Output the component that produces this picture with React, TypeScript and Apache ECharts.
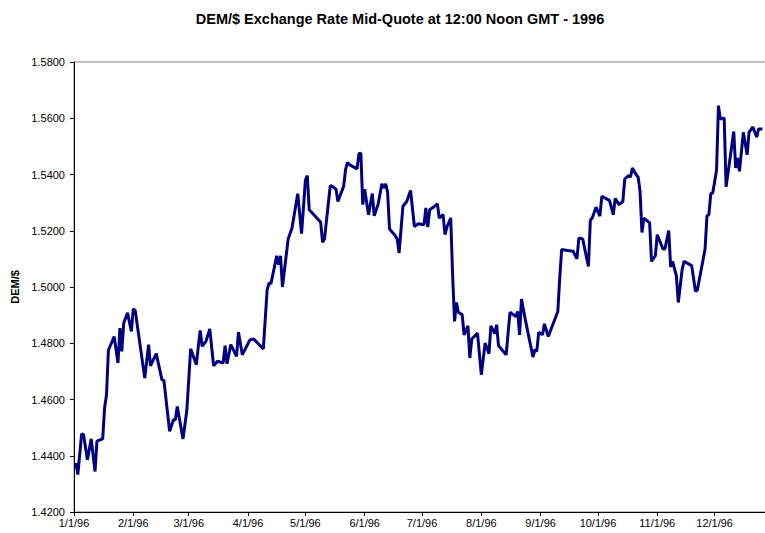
import React, { useEffect, useRef } from "react";
import * as echarts from "echarts";

const chartTitle = "DEM/$ Exchange Rate Mid-Quote at 12:00 Noon GMT - 1996";
const yAxisName = "DEM/$";

// day of year (0 = 1 Jan 1996) for each quote
const dayOfYear = [
  1, 2, 4, 5, 7, 9, 11, 12, 15, 16, 17, 18, 21, 23, 24, 25, 26, 28, 30, 31,
  32, 37, 39, 40, 43, 46, 47, 50, 52, 53, 54, 57, 59, 61, 64, 65, 66, 67, 69, 71,
  73, 75, 78, 79, 80, 82, 85, 86, 88, 92, 94, 99, 101, 102, 103, 106, 107, 108, 109, 112,
  114, 117, 119, 121, 122, 123, 127, 129, 130, 131, 134, 135, 137, 138, 141, 142, 143, 144, 148, 149,
  150, 151, 152, 154, 156, 157, 159, 161, 162, 163, 164, 165, 168, 169, 170, 172, 174, 176, 178, 180,
  183, 184, 185, 186, 188, 190, 191, 193, 194, 195, 197, 198, 199, 200, 201, 203, 204, 206, 207, 208,
  211, 213, 215, 217, 218, 220, 221, 222, 226, 227, 228, 231, 232, 233, 234, 236, 240, 241, 242, 243,
  245, 246, 248, 253, 254, 255, 258, 261, 263, 264, 266, 269, 270, 271, 273, 275, 276, 280, 282, 283,
  285, 287, 288, 290, 291, 292, 294, 295, 296, 297, 298, 301, 302, 304, 305, 308, 309, 311, 312, 313,
  315, 316, 318, 319, 323, 325, 326, 330, 331, 332, 333, 334, 336, 337, 338, 340, 341, 345, 346, 347,
  348, 350, 352, 353, 355, 357, 358, 360,
];

// DEM per USD mid-quote
const rates = [
  1.4374, 1.4333, 1.4478, 1.4475, 1.4386, 1.446, 1.4344, 1.4452, 1.446, 1.457, 1.4617, 1.4775, 1.4824, 1.473, 1.4854, 1.4771, 1.4872, 1.4908, 1.4842, 1.4922,
  1.4917, 1.4676, 1.4795, 1.472, 1.4763, 1.467, 1.4668, 1.4487, 1.4528, 1.4528, 1.4575, 1.446, 1.4561, 1.478, 1.4724, 1.4789, 1.4846, 1.4789, 1.4807, 1.4851,
  1.472, 1.4736, 1.473, 1.4791, 1.4727, 1.4795, 1.4753, 1.484, 1.4759, 1.4812, 1.4815, 1.478, 1.499, 1.5014, 1.5012, 1.5111, 1.5079, 1.5111, 1.5, 1.5171,
  1.521, 1.5332, 1.519, 1.5379, 1.5396, 1.5275, 1.5245, 1.523, 1.5159, 1.5171, 1.536, 1.5358, 1.5348, 1.5304, 1.5358, 1.5417, 1.5443, 1.5435, 1.542, 1.5474,
  1.5476, 1.5293, 1.5348, 1.5257, 1.5332, 1.5253, 1.5293, 1.5367, 1.5352, 1.5367, 1.5336, 1.5206, 1.5182, 1.5171, 1.5121, 1.5287, 1.5304, 1.5343, 1.5215, 1.5225,
  1.5221, 1.5281, 1.5213, 1.5275, 1.5284, 1.5296, 1.5245, 1.5257, 1.5186, 1.5213, 1.5245, 1.504, 1.4878, 1.4945, 1.491, 1.4901, 1.483, 1.4862, 1.4748, 1.4815,
  1.4836, 1.4688, 1.4801, 1.4763, 1.4862, 1.4834, 1.4866, 1.4791, 1.4759, 1.4836, 1.491, 1.4895, 1.4913, 1.483, 1.4957, 1.4884, 1.4751, 1.4777, 1.4771, 1.4839,
  1.483, 1.4869, 1.4824, 1.4913, 1.5032, 1.5133, 1.513, 1.5127, 1.51, 1.5174, 1.5171, 1.5073, 1.5237, 1.5245, 1.5284, 1.5252, 1.5322, 1.5308, 1.5257, 1.5315,
  1.5293, 1.5304, 1.5384, 1.5396, 1.5391, 1.5423, 1.5399, 1.5391, 1.534, 1.5194, 1.5245, 1.5228, 1.5091, 1.5111, 1.5186, 1.5135, 1.5135, 1.5201, 1.5071, 1.5091,
  1.504, 1.4945, 1.5062, 1.5091, 1.5076, 1.4984, 1.499, 1.5135, 1.5253, 1.5257, 1.5332, 1.5334, 1.5415, 1.5645, 1.5597, 1.5601, 1.5356, 1.5553, 1.5423, 1.5459,
  1.5411, 1.555, 1.547, 1.555, 1.5569, 1.5533, 1.5562, 1.5562,
];

const monthTickDays = [0, 31, 60, 91, 121, 152, 182, 213, 244, 274, 305, 335];
const monthTickLabels = [
  "1/1/96", "2/1/96", "3/1/96", "4/1/96", "5/1/96", "6/1/96",
  "7/1/96", "8/1/96", "9/1/96", "10/1/96", "11/1/96", "12/1/96",
];

const FONT = "'Liberation Sans', Arial, sans-serif";

export default function App() {
  const ref = useRef<HTMLDivElement>(null);
  useEffect(() => {
    if (!ref.current) return;
    const chart = echarts.init(ref.current, undefined, { renderer: "svg" });
    const data = dayOfYear.map((d, i) => [d, rates[i]]);
    chart.setOption({
      animation: false,
      backgroundColor: "#ffffff",
      textStyle: { fontFamily: FONT },
      graphic: [
        {
          type: "text",
          x: 400,
          y: 19,
          style: {
            text: chartTitle,
            fill: "#000",
            font: `bold 14.5px ${FONT}`,
            textAlign: "center",
            textVerticalAlign: "middle",
          },
        },
      ],
      grid: {
        left: 74,
        top: 62,
        width: 698,
        height: 450,
        containLabel: false,
        outerBoundsMode: "none",
        show: true,
        borderColor: "#808080",
        borderWidth: 1,
        backgroundColor: "transparent",
      },
      xAxis: {
        type: "value",
        min: 0,
        max: 365,
        axisLine: { show: true, lineStyle: { color: "#000", width: 1 } },
        axisTick: {
          show: true,
          customValues: monthTickDays,
          length: 4,
          lineStyle: { color: "#000" },
        },
        axisLabel: {
          customValues: monthTickDays,
          formatter: (v: number) => {
            const i = monthTickDays.indexOf(v);
            return i >= 0 ? monthTickLabels[i] : "";
          },
          margin: 5,
          fontSize: 11,
          color: "#000",
          fontFamily: FONT,
        },
        splitLine: { show: false },
      },
      yAxis: {
        type: "value",
        min: 1.42,
        max: 1.58,
        interval: 0.02,
        name: yAxisName,
        nameLocation: "middle",
        nameGap: 54,
        nameRotate: 90,
        nameTextStyle: { fontWeight: "bold", fontSize: 11, color: "#000", fontFamily: FONT },
        axisLine: { show: true, lineStyle: { color: "#000", width: 1 } },
        axisTick: { show: true, length: 4, lineStyle: { color: "#000" } },
        axisLabel: {
          formatter: (v: number) => v.toFixed(4),
          margin: 9,
          fontSize: 11,
          color: "#000",
          fontFamily: FONT,
        },
        splitLine: { show: false },
      },
      series: [
        {
          type: "line",
          data,
          showSymbol: false,
          symbol: "none",
          lineStyle: { color: "#000080", width: 3 },
          clip: true,
        },
      ],
    });
    return () => chart.dispose();
  }, []);
  return <div ref={ref} style={{ width: 765, height: 533, position: "absolute", left: 0, top: 0 }} />;
}
